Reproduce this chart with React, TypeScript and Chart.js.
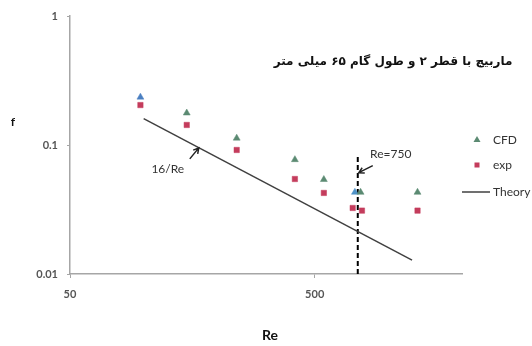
import { useEffect, useRef } from 'react';
import { Chart, registerables } from 'chart.js';

Chart.register(...registerables);

// Friction factor f against Reynolds number Re (log-log)
const cfdRe = [97, 150, 240, 415, 545, 730, 770, 1316];
const cfdF = [0.235, 0.177, 0.113, 0.077, 0.054, 0.043, 0.043, 0.043];
const cfdColors = ['#4a7fc1', '#5b8a72', '#5b8a72', '#5b8a72', '#5b8a72', '#4f93c8', '#5b8a72', '#5b8a72'];

const expRe = [97, 150, 240, 415, 545, 715, 780, 1316];
const expF = [0.204, 0.143, 0.0915, 0.0545, 0.0425, 0.0325, 0.031, 0.031];

// Laminar theory f = 16/Re
const theoryRe = [100, 1250];
const theoryF = [0.16, 0.0128];

// Transition marker at Re = 750
const markerRe = 750;
const markerF = [0.01, 0.083];

const xTicks = [50, 500];
const yTicks = [0.01, 0.1, 1];
const seriesNames = ['CFD', 'exp', 'Theory'];
const chartTitle = 'ماربیچ با قطر ۲ و طول گام ۶۵ میلی متر';

const TICK_FONT = { family: 'Lato, "Open Sans", sans-serif', size: 11, weight: 'bold' as const };

function arrow(ctx: CanvasRenderingContext2D, x1: number, y1: number, x2: number, y2: number) {
  const a = Math.atan2(y2 - y1, x2 - x1);
  const h = 6;
  ctx.beginPath();
  ctx.moveTo(x1, y1);
  ctx.lineTo(x2, y2);
  ctx.moveTo(x2 - h * Math.cos(a - 0.5), y2 - h * Math.sin(a - 0.5));
  ctx.lineTo(x2, y2);
  ctx.lineTo(x2 - h * Math.cos(a + 0.5), y2 - h * Math.sin(a + 0.5));
  ctx.stroke();
}

const overlay = {
  id: 'overlay',
  afterDraw(chart: any) {
    const { ctx } = chart;
    const x = chart.scales.x;
    const y = chart.scales.y;
    ctx.save();

    // title inside the plot
    ctx.font = 'bold 12px "DejaVu Sans", sans-serif';
    ctx.fillStyle = '#111';
    ctx.textAlign = 'center';
    ctx.textBaseline = 'middle';
    ctx.fillText(chartTitle, 393, 62);

    // axis titles
    ctx.font = 'bold 12px Lato, "Open Sans", sans-serif';
    ctx.fillText('f', 13, 122);
    ctx.font = 'bold 14px Lato, "Open Sans", sans-serif';
    ctx.fillText('Re', 270, 335);

    // 16/Re annotation
    ctx.strokeStyle = '#222';
    ctx.lineWidth = 1.5;
    const tx = x.getPixelForValue(168);
    const ty = y.getPixelForValue(0.095);
    arrow(ctx, tx - 9, ty + 11, tx, ty);
    ctx.font = '12px Lato, "Open Sans", sans-serif';
    ctx.fillStyle = '#333';
    ctx.fillText('16/Re', tx - 31, ty + 21);

    // Re=750 annotation
    const mx = x.getPixelForValue(markerRe) + 1;
    const my = y.getPixelForValue(0.061);
    arrow(ctx, mx + 14, my - 7, mx, my);
    ctx.fillText('Re=750', mx + 32, my - 19);

    // legend
    ctx.font = '12px Lato, "Open Sans", sans-serif';
    ctx.textAlign = 'left';
    ctx.fillStyle = '#5b8a72';
    ctx.beginPath();
    ctx.moveTo(477, 136);
    ctx.lineTo(480.5, 142);
    ctx.lineTo(473.5, 142);
    ctx.closePath();
    ctx.fill();
    ctx.fillStyle = '#c43c5c';
    ctx.fillRect(474.5, 162.5, 5, 5);
    ctx.strokeStyle = '#404040';
    ctx.lineWidth = 1.5;
    ctx.beginPath();
    ctx.moveTo(462, 192);
    ctx.lineTo(490, 192);
    ctx.stroke();
    ctx.fillStyle = '#333';
    ctx.fillText(seriesNames[0], 493, 140);
    ctx.fillText(seriesNames[1], 493, 165);
    ctx.fillText(seriesNames[2], 493, 192);

    ctx.restore();
  },
};

export default function App() {
  const ref = useRef<HTMLCanvasElement>(null);

  useEffect(() => {
    if (!ref.current) return;
    const chart = new Chart(ref.current, {
      type: 'scatter',
      data: {
        datasets: [
          {
            label: seriesNames[0],
            data: cfdRe.map((r, i) => ({ x: r, y: cfdF[i] })),
            pointStyle: 'triangle',
            pointRadius: 4,
            pointBackgroundColor: cfdColors,
            pointBorderColor: cfdColors,
            pointBorderWidth: 0.5,
          },
          {
            label: seriesNames[1],
            data: expRe.map((r, i) => ({ x: r, y: expF[i] })),
            pointStyle: 'rect',
            pointRadius: 3.8,
            pointBackgroundColor: '#c43c5c',
            pointBorderColor: '#c43c5c',
            pointBorderWidth: 0.5,
          },
          {
            label: seriesNames[2],
            data: theoryRe.map((r, i) => ({ x: r, y: theoryF[i] })),
            showLine: true,
            pointRadius: 0,
            borderColor: '#404040',
            borderWidth: 1.5,
          },
          {
            label: 'Re=750',
            data: markerF.map((f) => ({ x: markerRe, y: f })),
            showLine: true,
            pointRadius: 0,
            borderColor: '#000',
            borderWidth: 2,
            borderDash: [5, 3],
          },
        ],
      },
      options: {
        responsive: false,
        animation: false,
        devicePixelRatio: 1,
        layout: { padding: { top: 16, right: 70, left: 0, bottom: 0 } },
        plugins: { legend: { display: false }, tooltip: { enabled: false } },
        scales: {
          x: {
            type: 'logarithmic',
            min: 50,
            max: 2000,
            afterBuildTicks: (s: any) => {
              s.ticks = xTicks.map((v) => ({ value: v }));
            },
            afterFit: (s: any) => {
              s.height = 72;
            },
            grid: { display: true, drawOnChartArea: false, drawTicks: true, tickLength: 4, color: '#a6a6a6' },
            border: { display: true, color: '#a6a6a6', width: 1.5 },
            ticks: {
              color: '#555',
              font: TICK_FONT,
              padding: 10,
              autoSkip: false,
              maxRotation: 0,
              callback: (v: any) => String(v),
            },
          },
          y: {
            type: 'logarithmic',
            min: 0.01,
            max: 1,
            afterBuildTicks: (s: any) => {
              s.ticks = yTicks.map((v) => ({ value: v }));
            },
            afterFit: (s: any) => {
              s.width = 70;
            },
            grid: { display: true, drawOnChartArea: false, drawTicks: true, tickLength: 3, color: '#a6a6a6' },
            border: { display: true, color: '#a6a6a6', width: 1.5 },
            ticks: {
              color: '#555',
              font: TICK_FONT,
              padding: 9,
              autoSkip: false,
              callback: (v: any) => String(v),
            },
          },
        },
      },
      plugins: [overlay],
    });
    return () => chart.destroy();
  }, []);

  return (
    <div style={{ position: 'absolute', left: 0, top: 0, width: 532, height: 346, background: '#fff' }}>
      <canvas ref={ref} width={532} height={346} />
    </div>
  );
}
